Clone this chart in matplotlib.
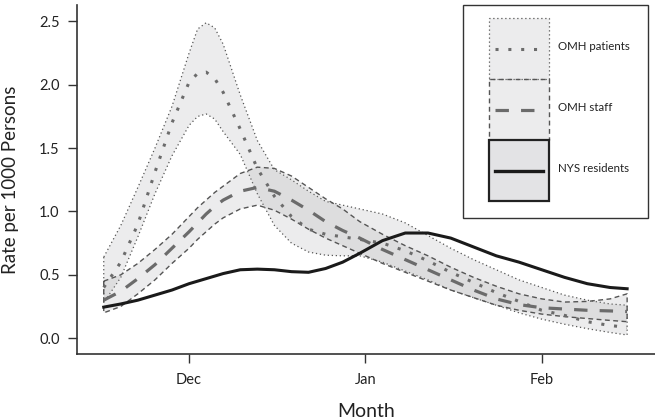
import numpy as np
import pandas as pd
import matplotlib
matplotlib.use("Agg")
import matplotlib.pyplot as plt
import matplotlib.dates as mdates
from matplotlib.patches import Rectangle
from matplotlib.lines import Line2D
from matplotlib.legend_handler import HandlerBase

plt.rcParams['font.family'] = ['Lato', 'DejaVu Sans']

# ---------------- data ----------------
start_date = "2009-12-01"
day_offsets = [-15, -12, -9, -6, -3, 0, 1.5, 3, 4.5, 6, 9, 12, 15, 18, 21, 24, 27, 30,
               34, 38, 42, 46, 50, 54, 58, 62, 66, 70, 74, 77]

patients_mean = [0.40, 0.60, 0.90, 1.31, 1.70, 2.02, 2.09, 2.10, 2.05, 1.94, 1.65, 1.34,
                 1.12, 0.96, 0.86, 0.82, 0.80, 0.78, 0.75, 0.69, 0.61, 0.52, 0.44, 0.36,
                 0.29, 0.22, 0.18, 0.13, 0.10, 0.085]
patients_low = [0.28, 0.48, 0.80, 1.14, 1.44, 1.68, 1.75, 1.77, 1.73, 1.63, 1.45, 1.14,
                0.89, 0.75, 0.68, 0.655, 0.65, 0.65, 0.60, 0.53, 0.46, 0.38, 0.32, 0.26,
                0.20, 0.15, 0.11, 0.075, 0.045, 0.025]
patients_high = [0.64, 0.89, 1.19, 1.50, 1.83, 2.25, 2.44, 2.49, 2.45, 2.32, 1.92, 1.56,
                 1.33, 1.25, 1.16, 1.08, 1.05, 1.02, 0.98, 0.91, 0.81, 0.71, 0.62, 0.54,
                 0.46, 0.40, 0.34, 0.30, 0.27, 0.26]

staff_mean = [0.30, 0.37, 0.47, 0.58, 0.71, 0.84, 0.91, 0.98, 1.04, 1.09, 1.16, 1.19,
              1.16, 1.09, 1.01, 0.92, 0.85, 0.79, 0.70, 0.62, 0.54, 0.46, 0.38, 0.31,
              0.265, 0.24, 0.23, 0.22, 0.215, 0.21]
staff_low = [0.20, 0.25, 0.35, 0.46, 0.59, 0.71, 0.78, 0.84, 0.90, 0.95, 1.02, 1.05,
             1.01, 0.94, 0.86, 0.79, 0.73, 0.67, 0.59, 0.52, 0.45, 0.38, 0.32, 0.26,
             0.22, 0.19, 0.17, 0.155, 0.14, 0.13]
staff_high = [0.45, 0.50, 0.59, 0.70, 0.82, 0.96, 1.03, 1.09, 1.15, 1.20, 1.30, 1.35,
              1.34, 1.28, 1.19, 1.10, 1.02, 0.92, 0.82, 0.73, 0.65, 0.56, 0.48, 0.41,
              0.35, 0.31, 0.285, 0.29, 0.31, 0.35]

nys_mean = [0.245, 0.27, 0.30, 0.34, 0.38, 0.43, 0.45, 0.47, 0.49, 0.51, 0.54, 0.545,
            0.54, 0.525, 0.52, 0.55, 0.60, 0.67, 0.77, 0.83, 0.83, 0.79, 0.72, 0.65,
            0.60, 0.54, 0.48, 0.43, 0.40, 0.39]

series_labels = ["OMH patients", "OMH staff", "NYS residents"]
y_ticks = [0.0, 0.5, 1.0, 1.5, 2.0, 2.5]
x_label = "Month"
y_label = "Rate per 1000 Persons"

# ---------------- figure ----------------
dates = pd.Timestamp(start_date) + pd.to_timedelta(day_offsets, unit="D")

fig = plt.figure(figsize=(6.55, 4.2), dpi=100)
ax = fig.add_axes([77 / 655, 66 / 420, 578 / 655, 349 / 420])

band_fc = (0.58, 0.58, 0.59, 0.17)
edge_c = "#555555"

ax.fill_between(dates, patients_low, patients_high, facecolor=band_fc,
                edgecolor=edge_c, linestyle=(0, (1, 2.2)), linewidth=0.9, zorder=1)
ax.fill_between(dates, staff_low, staff_high, facecolor=band_fc,
                edgecolor=edge_c, linestyle=(0, (3.5, 2.5)), linewidth=1.0, zorder=1)

mean_c = "#6b6b6b"
ax.plot(dates, patients_mean, color=mean_c, linewidth=2.2,
        linestyle=(0, (1, 3.2)), zorder=3)
ax.plot(dates, staff_mean, color=mean_c, linewidth=2.3,
        linestyle=(0, (4.2, 3.8)), zorder=3)
ax.plot(dates, nys_mean, color="#1a1a1a", linewidth=2.2, zorder=4)

# axes limits / ticks
ax.set_xlim(pd.Timestamp(start_date) - pd.Timedelta(days=19.7),
            pd.Timestamp(start_date) + pd.Timedelta(days=81.9))
ax.set_ylim(-0.125, 2.63)
ax.xaxis.set_major_locator(mdates.MonthLocator())
ax.xaxis.set_major_formatter(mdates.DateFormatter("%b"))
ax.set_yticks(y_ticks)
ax.set_yticklabels([f"{v:.1f}" for v in y_ticks])

for s in ["top", "right"]:
    ax.spines[s].set_visible(False)
for s in ["left", "bottom"]:
    ax.spines[s].set_linewidth(1.2)
    ax.spines[s].set_color("#333333")
ax.tick_params(axis="both", direction="out", length=6.5, width=1.0,
               color="#333333", labelsize=10.5, labelcolor="#222222")
ax.tick_params(axis="x", pad=7)
ax.tick_params(axis="y", pad=6)

ax.set_xlabel(x_label, fontsize=14, color="#222222")
ax.set_ylabel(y_label, fontsize=13.5, color="#222222")
ax.xaxis.set_label_coords(0.5, (354 - 403) / 349)
ax.yaxis.set_label_coords((19 - 77) / 578, 0.5)

# ---------------- legend ----------------
class LegendEntry:
    def __init__(self, fc, ec, els, elw, lc, lls, llw):
        self.fc, self.ec, self.els, self.elw = fc, ec, els, elw
        self.lc, self.lls, self.llw = lc, lls, llw


class EntryHandler(HandlerBase):
    def create_artists(self, legend, h, xdescent, ydescent, width, height,
                       fontsize, trans):
        rect = Rectangle((-xdescent, -ydescent), width, height, facecolor=h.fc,
                         edgecolor=h.ec, linestyle=h.els, linewidth=h.elw,
                         transform=trans)
        inset = width * 0.1
        yc = -ydescent + height / 2
        line = Line2D([-xdescent + inset, -xdescent + width - inset], [yc, yc],
                      color=h.lc, linestyle=h.lls, linewidth=h.llw,
                      transform=trans)
        return [rect, line]


entries = [
    LegendEntry(band_fc, edge_c, (0, (1, 2.2)), 0.9, mean_c, (0, (1, 3.2)), 2.2),
    LegendEntry(band_fc, edge_c, (0, (3.5, 2.5)), 1.0, mean_c, (0, (4.2, 3.8)), 2.3),
    LegendEntry("#e3e3e5", "#222222", "-", 1.6, "#1a1a1a", "-", 2.4),
]

frame = Rectangle(((463 - 77) / 578, (354 - 218) / 349), (648 - 463) / 578,
                  (218 - 5) / 349, transform=ax.transAxes, facecolor="white",
                  edgecolor="#333333", linewidth=1.0, zorder=5, clip_on=False)
ax.add_patch(frame)

leg_fs = 8.3
fs_px = leg_fs * 100 / 72
row_h = 61 / fs_px
leg = ax.legend(entries, series_labels, handler_map={LegendEntry: EntryHandler()},
                loc="upper left",
                bbox_to_anchor=((489 - 77) / 578, (354 - 18) / 349),
                frameon=False, fontsize=leg_fs, borderpad=0, borderaxespad=0,
                labelspacing=0, handlelength=60 / fs_px,
                handleheight=(row_h - 0.245) / 0.65,
                handletextpad=9 / fs_px)
leg.set_zorder(6)
for t in leg.get_texts():
    t.set_color("#222222")

fig.savefig("out.png", dpi=100)
